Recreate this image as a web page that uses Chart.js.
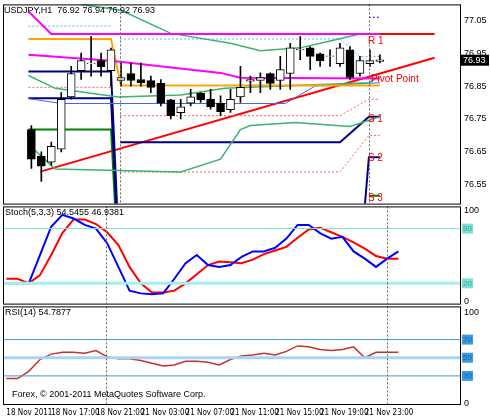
<!DOCTYPE html>
<html lang="en">
<head>
<meta charset="UTF-8">
<title>USDJPY H1</title>
<script src="https://cdn.jsdelivr.net/npm/chart.js"></script>
<style>
  body { margin: 0; background: #fff; overflow: hidden; }
  .wrap { position: relative; width: 490px; height: 420px; overflow: hidden; }
  canvas { position: absolute; left: 0; }
  #main { top: -2px; }
  #stoch { top: 200px; }
  #rsi { top: 300px; }
</style>
</head>
<body>
<div class="wrap">
  <canvas id="main" width="490" height="212"></canvas>
  <canvas id="stoch" width="490" height="110"></canvas>
  <canvas id="rsi" width="490" height="120"></canvas>
</div>
<script>
// candles (open, close, high, low) per hourly bar
const opens  = [76.718,76.637,76.619,76.658,76.817,76.897,76.918,76.927,76.897,76.867,76.888,76.870,76.867,76.858,76.808,76.769,76.798,76.829,76.810,76.798,76.778,76.817,76.865,76.867,76.888,76.867,76.888,76.960,76.966,76.948,76.940,76.918,76.960,76.888,76.918,76.925];
const closes = [76.628,76.607,76.667,76.810,76.888,76.927,76.918,76.909,76.960,76.876,76.867,76.860,76.846,76.798,76.760,76.787,76.817,76.808,76.787,76.772,76.810,76.846,76.870,76.876,76.858,76.900,76.966,76.960,76.940,76.927,76.940,76.966,76.876,76.927,76.927,76.930];
const highs  = [76.730,76.650,76.680,76.830,76.910,76.950,77.000,76.950,76.965,76.920,76.920,76.920,76.880,76.870,76.810,76.810,76.840,76.830,76.840,76.820,76.840,76.910,76.880,76.890,76.890,76.940,76.980,77.000,76.970,76.950,76.960,76.980,76.970,76.940,76.960,76.945];
const lows   = [76.600,76.560,76.610,76.650,76.810,76.870,76.880,76.880,76.850,76.850,76.850,76.850,76.830,76.790,76.750,76.750,76.790,76.800,76.780,76.760,76.770,76.800,76.830,76.830,76.840,76.840,76.840,76.930,76.900,76.910,76.910,76.910,76.870,76.880,76.910,76.920];

const stochK = [20,20,20,51,82,95,91,84,80,64,38,12,9,8,9,25,42,51,40,38,40,49,55,55,59,69,84,84,75,69,71,55,47,38,47,55];
const stochD = [25,25,20,29,51,75,90,90,85,76,62,38,20,10,10,12,20,30,40,44,43,42,46,52,56,60,70,79,81,76,71,65,58,50,47,47];
const rsi    = [27,27,35,48,54,56,56,55,58,51,49,49,47,44,41,42,46,46,45,42,48,52,53,55,53,57,63,62,59,58,59,62,50,56,56,56];

const timeLabels = ['18 Nov 2011','18 Nov 17:00','18 Nov 21:00','21 Nov 03:00','21 Nov 07:00','21 Nov 11:00','21 Nov 15:00','21 Nov 19:00','21 Nov 23:00'];
const priceTicks = [77.05, 76.95, 76.85, 76.75, 76.65, 76.55];

// indicator lines as [bar, price]
const magentaTop = [[-0.3,77.077],[2,77.008],[35,77.008]];
const redR1      = [[27.9,77.008],[40.5,77.008]];
const magentaMid = [[-0.3,76.945],[8,76.927],[19,76.890],[21,76.875],[35,76.873]];
const orangeLine = [[-0.3,76.993],[8,76.993],[9,76.852],[35,76.852]];
const greenUpper = [[5,77.098],[9,77.08],[14,77.01],[20,76.98],[23,76.957],[27,76.966],[30,76.987],[33,77.008]];
const greenMid   = [[-0.3,76.882],[2.4,76.843],[8.7,76.817],[15,76.823],[19.4,76.843],[26.5,76.852],[33.9,76.86],[35,76.88]];
const greenLower = [[-0.3,76.673],[2.4,76.598],[15,76.589],[19,76.628],[21,76.718],[22,76.73],[26.5,76.739],[32,76.727],[35,76.757]];
const blueLine   = [[-0.3,76.812],[3,76.797],[25.5,76.797],[28.5,76.85],[35,76.86]];
const navyA      = [[-0.3,76.894],[8,76.894],[8.6,76.49]];
const navyB      = [[-0.3,76.813],[8,76.813],[8.5,76.49]];
const navyPivot  = [[8.9,76.679],[31,76.679],[33.9,76.757],[35,76.757]];
const navyS2     = [[33.5,76.49],[33.9,76.634],[35,76.634]];
const greenS     = [[-0.3,76.718],[8,76.718],[8.4,76.49]];
const greenS3    = [[33.9,76.517],[35,76.517]];
const trendLine  = [[0.9,76.59],[40.5,76.936]];
const redDash1   = [[-0.3,76.846],[8,76.846]];
const redDash2   = [[8.9,76.589],[31,76.589],[33.9,76.70],[35,76.70]];
const redDash3   = [[8.9,76.76],[31,76.76],[33.9,76.81],[35,76.81]];
const blueDot1   = [[-0.3,77.032],[8,77.032]];
const blueDot2   = [[8.9,76.993],[31,76.993],[33,76.94],[35,76.94]];
const blueDot3   = [[33.9,77.059],[35,77.059]];

const X_MIN = -0.3, X_MAX = 40.5;
const FONT = { family: 'Liberation Sans, Arial', size: 9 };
const NARROW = { family: 'Liberation Sans Narrow, DejaVu Sans Condensed, Arial', size: 8 };
Chart.defaults.font = FONT;
Chart.defaults.color = '#000';
Chart.defaults.animation = false;

const pts = arr => arr.map(p => ({ x: p[0], y: p[1] }));
const idx = arr => arr.map((v, i) => ({ x: i, y: v }));

function line(data, color, width, dash) {
  return { type: 'line', data: pts(data), borderColor: color, borderWidth: width,
    borderDash: dash || [], pointRadius: 0, tension: 0, order: 2 };
}

// frame, dotted day separators, texts
function panelPlugin(opts) {
  return {
    id: 'panel',
    afterDatasetsDraw(chart) {
      const { ctx, chartArea: a, scales } = chart;
      ctx.save();
      ctx.strokeStyle = '#666';
      ctx.setLineDash([2, 2]);
      ctx.lineWidth = 1;
      [8.9, 33.95].forEach(b => {
        const x = Math.round(scales.x.getPixelForValue(b)) + 0.5;
        ctx.beginPath(); ctx.moveTo(x, a.top); ctx.lineTo(x, a.bottom); ctx.stroke();
      });
      ctx.setLineDash([]);
      ctx.strokeStyle = '#000';
      ctx.strokeRect(a.left + 0.5, a.top + 0.5, a.right - a.left, a.bottom - a.top);
      ctx.textBaseline = 'top';
      (opts.texts || []).forEach(t => {
        ctx.fillStyle = t.color || '#000';
        ctx.font = (t.size || 9) + 'px Liberation Sans, Arial';
        const x = t.bar != null ? scales.x.getPixelForValue(t.bar) : a.left + t.dx;
        const y = t.value != null ? scales.y.getPixelForValue(t.value) : a.top + t.dy;
        ctx.fillText(t.text, x, y);
      });
      ctx.font = '8px Liberation Sans, Arial';
      (opts.levels || []).forEach(l => {
        const y = scales.y.getPixelForValue(l.value);
        ctx.fillStyle = l.bg;
        ctx.fillRect(a.right + 2, y - 5, 11, 10);
        ctx.fillStyle = l.fg;
        ctx.textBaseline = 'middle';
        ctx.fillText(String(l.value), a.right + 3, y);
      });
      if (opts.last != null) {
        const y = scales.y.getPixelForValue(opts.last);
        ctx.font = '9px Liberation Sans, Arial';
        ctx.fillStyle = '#000';
        ctx.fillRect(a.right + 1, y - 5, 28, 11);
        ctx.fillStyle = '#fff';
        ctx.textBaseline = 'middle';
        ctx.fillText(opts.last.toFixed(2), a.right + 3, y + 0.5);
      }
      ctx.restore();
    }
  };
}

function rightAxis(min, max, ticks, fmt) {
  return {
    position: 'right', min: min, max: max,
    afterBuildTicks: s => { s.ticks = ticks.map(v => ({ value: v })); },
    afterFit: s => { s.width = 30; },
    grid: { display: false, drawTicks: true, tickLength: 3, color: '#000' },
    border: { display: false },
    ticks: { padding: 1, font: FONT, color: '#000', callback: fmt }
  };
}

const xHidden = { type: 'linear', min: X_MIN, max: X_MAX, display: false };

// main price panel
new Chart(document.getElementById('main'), {
  data: {
    datasets: [
      line(magentaTop, '#ff00ff', 2), line(redR1, '#ff0000', 2),
      line(magentaMid, '#ff00ff', 2), line(orangeLine, '#ffa500', 2),
      line(greenUpper, '#3cb371', 1.5), line(greenMid, '#3cb371', 1.5), line(greenLower, '#3cb371', 1.5),
      line(blueLine, '#4169e1', 1), line(navyA, '#000080', 2), line(navyB, '#000080', 2),
      line(navyPivot, '#000080', 2), line(navyS2, '#000080', 2),
      line(greenS, '#008000', 2), line(greenS3, '#008000', 2),
      line(redDash1, '#ff6060', 1, [2, 2]), line(redDash2, '#ff6060', 1, [2, 2]), line(redDash3, '#ff6060', 1, [2, 2]),
      line(blueDot1, '#5ab4ff', 1, [2, 2]), line(blueDot2, '#5ab4ff', 1, [2, 2]), line(blueDot3, '#0000ff', 1, [2, 2]),
      line(trendLine, '#ff0000', 2),
      { type: 'bar', data: highs.map((h, i) => ({ x: i, y: [lows[i], h] })), backgroundColor: '#000',
        barThickness: 1, grouped: false, order: 1 },
      { type: 'bar', data: opens.map((o, i) => ({ x: i, y: [o, o === closes[i] ? o + 0.002 : closes[i]] })),
        backgroundColor: opens.map((o, i) => closes[i] < o ? '#000' : '#fff'),
        borderColor: '#000', borderWidth: 1, borderSkipped: false, barThickness: 8, grouped: false, order: 0 }
    ]
  },
  options: {
    responsive: false,
    layout: { padding: { left: 3, top: 0, bottom: 0, right: 0 } },
    plugins: { legend: { display: false }, tooltip: { enabled: false } },
    scales: { x: xHidden, y: rightAxis(76.493, 77.098, priceTicks, v => v.toFixed(2)) }
  },
  plugins: [panelPlugin({
    last: 76.93,
    texts: [
      { text: 'USDJPY,H1  76.92 76.94 76.92 76.93', dx: 1, dy: 2 },
      { text: 'R 1', bar: 33.8, value: 77.0, color: '#ff0000', size: 10 },
      { text: 'Pivot Point', bar: 34.1, value: 76.885, color: '#ff0000', size: 10 },
      { text: 'S 1', bar: 33.8, value: 76.765, color: '#ff0000', size: 10 },
      { text: 'S 2', bar: 33.8, value: 76.645, color: '#ff0000', size: 10 },
      { text: 'S 3', bar: 33.8, value: 76.525, color: '#ff0000', size: 10 }
    ]
  })]
});

// stochastic panel
new Chart(document.getElementById('stoch'), {
  type: 'line',
  data: {
    datasets: [
      { data: [{ x: X_MIN, y: 80 }, { x: X_MAX, y: 80 }], borderColor: '#7fe0d0', borderWidth: 1, pointRadius: 0 },
      { data: [{ x: X_MIN, y: 20 }, { x: X_MAX, y: 20 }], borderColor: '#9ff0ee', borderWidth: 3, pointRadius: 0 },
      { data: idx(stochK), borderColor: '#0000ff', borderWidth: 2, pointRadius: 0 },
      { data: idx(stochD), borderColor: '#ff0000', borderWidth: 2, pointRadius: 0 }
    ]
  },
  options: {
    responsive: false,
    layout: { padding: { left: 3, top: 0, bottom: 0 } },
    plugins: { legend: { display: false }, tooltip: { enabled: false } },
    scales: { x: xHidden, y: rightAxis(-2.2, 104.3, [100, 0], v => String(v)) }
  },
  plugins: [panelPlugin({
    texts: [{ text: 'Stoch(5,3,3) 54.5455 46.9381', dx: 2, dy: 2 }],
    levels: [{ value: 80, bg: '#7fe0d0', fg: '#40a0a0' }, { value: 20, bg: '#7fe0d0', fg: '#40a0a0' }]
  })]
});

// RSI panel with time axis
new Chart(document.getElementById('rsi'), {
  type: 'line',
  data: {
    datasets: [
      { data: [{ x: X_MIN, y: 70 }, { x: X_MAX, y: 70 }], borderColor: '#3c9be0', borderWidth: 1, pointRadius: 0 },
      { data: [{ x: X_MIN, y: 50 }, { x: X_MAX, y: 50 }], borderColor: '#a8d4f4', borderWidth: 3, pointRadius: 0 },
      { data: [{ x: X_MIN, y: 30 }, { x: X_MAX, y: 30 }], borderColor: '#3c9be0', borderWidth: 1, pointRadius: 0 },
      { data: idx(rsi), borderColor: '#c83030', borderWidth: 1.5, pointRadius: 0 }
    ]
  },
  options: {
    responsive: false,
    layout: { padding: { left: 3, top: 0 } },
    plugins: { legend: { display: false }, tooltip: { enabled: false } },
    scales: {
      x: {
        type: 'linear', min: X_MIN, max: X_MAX,
        afterBuildTicks: s => { s.ticks = timeLabels.map((_, i) => ({ value: i * 4 })); },
        afterFit: s => { s.height = 16; },
        grid: { display: false, drawTicks: true, tickLength: 3, color: '#000' },
        border: { display: false },
        ticks: { align: 'start', padding: 1, maxRotation: 0, autoSkip: false, font: NARROW,
          callback: (v) => timeLabels[v / 4] }
      },
      y: rightAxis(-1, 106.6, [100, 0], v => String(v))
    }
  },
  plugins: [panelPlugin({
    texts: [
      { text: 'RSI(14) 54.7877', dx: 2, dy: 2 },
      { text: 'Forex, © 2001-2011 MetaQuotes Software Corp.', dx: 9, dy: 84 }
    ],
    levels: [{ value: 70, bg: '#3c9be0', fg: '#1060b0' }, { value: 50, bg: '#3c9be0', fg: '#1060b0' }, { value: 30, bg: '#3c9be0', fg: '#1060b0' }]
  })]
});
</script>
</body>
</html>
